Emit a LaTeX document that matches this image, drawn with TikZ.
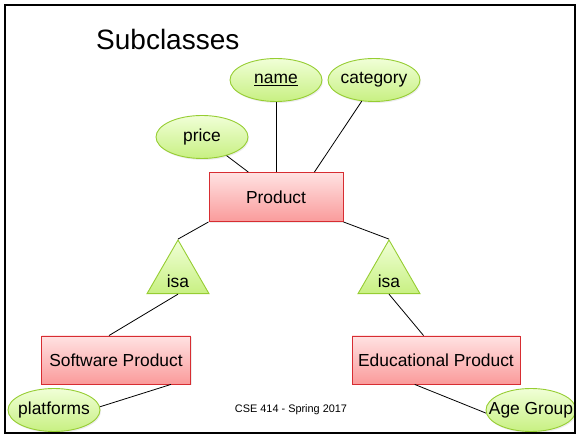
\documentclass[tikz,border=0pt]{standalone}
\usepackage{fontspec}
\setmainfont{Liberation Sans}
\usetikzlibrary{shapes.geometric,shadows}
\definecolor{entitytop}{RGB}{255,226,226}
\definecolor{entitybottom}{RGB}{250,155,155}
\definecolor{entityline}{RGB}{215,45,50}
\definecolor{attrtop}{RGB}{240,255,215}
\definecolor{attrbottom}{RGB}{200,240,130}
\definecolor{attrline}{RGB}{150,205,50}
\newcommand\attrtext[1]{\makebox[0pt]{#1}}
\begin{document}
\begin{tikzpicture}[x=1pt,y=-1pt,
    entity/.style={draw=entityline, line width=0.9pt, top color=entitytop,
        bottom color=entitybottom, minimum height=48pt, inner sep=0pt,
        drop shadow={opacity=0.15, shadow xshift=1pt, shadow yshift=-1.5pt},
        font=\fontsize{17.4}{20}\selectfont},
    attr/.style={ellipse, draw=attrline, line width=0.9pt, top color=attrtop,
        bottom color=attrbottom, minimum width=92pt, minimum height=43pt, inner sep=0pt,
        drop shadow={opacity=0.15, shadow xshift=1pt, shadow yshift=-1.5pt},
        font=\fontsize{17.4}{20}\selectfont},
    isa/.style={regular polygon, regular polygon sides=3, draw=attrline, line width=0.9pt,
        top color=attrtop, bottom color=attrbottom, minimum size=71.6pt, inner sep=0pt},
    isatext/.style={inner sep=0pt, font=\fontsize{17.4}{20}\selectfont},
    link/.style={line width=0.8pt}
]
\useasboundingbox (0,0) rectangle (576,435);

\node[anchor=base west, inner sep=0pt, font=\fontsize{28}{32}\selectfont] (title) at (96,50) {Subclasses};

\node[entity, minimum width=134pt, minimum height=49pt] (product) at (276,197) {Product};
\node[attr] (price) at (202,137) {\attrtext{price}};
\node[attr] (name) at (276,80) {\attrtext{\underline{name}}};
\node[attr] (category) at (374,80) {\attrtext{category}};

\node[isa] (isaL) at (178,275.8) {};
\node[isatext] (isaLtxt) at (178,281) {isa};
\node[isa] (isaR) at (389,275.8) {};
\node[isatext] (isaRtxt) at (389,281) {isa};

\node[entity, minimum width=149pt] (software) at (116,360) {Software Product};
\node[entity, minimum width=168pt] (educational) at (436,360) {Educational Product};
\node[attr] (platforms) at (54,410) {\attrtext{platforms}};
\node[attr, minimum width=90pt] (agegroup) at (531,410) {\attrtext{Age Group}};

\node[font=\fontsize{10.9}{13}\selectfont] (footer) at (291,410) {CSE 414 - Spring 2017};

\draw[link] (price) -- (product.138);
\draw[link] (name.south) -- (product.north);
\draw[link] (category.240) -- (product.33);
\draw[link] (product.south west) -- (isaL.corner 1);
\draw[link] (product.south east) -- (isaR.corner 1);
\draw[link] (isaL.side 2) -- (software.106);
\draw[link] (isaR.side 2) -- (educational.117);
\draw[link] (software.-24) -- (platforms.4);
\draw[link] (educational.229) -- (agegroup.184);

\draw[line width=2pt] (5,5) rectangle (575,433);
\end{tikzpicture}
\end{document}
